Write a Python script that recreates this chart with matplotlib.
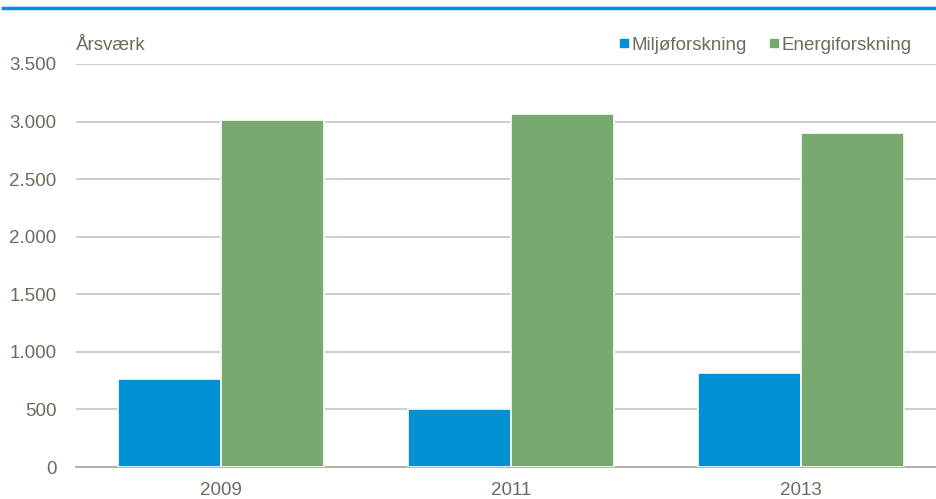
import matplotlib.pyplot as plt
import numpy as np
from matplotlib.lines import Line2D

# data
aar = ['2009', '2011', '2013']
miljo = [765, 505, 815]
energi = [3015, 3065, 2900]
serier = ['Miljøforskning', 'Energiforskning']
yticks = [0, 500, 1000, 1500, 2000, 2500, 3000, 3500]
ylabels = ['0', '500', '1.000', '1.500', '2.000', '2.500', '3.000', '3.500']

blaa = '#0090d4'
groen = '#78a96f'
tekst = '#6b6b5e'
gitter = '#c6c6bc'

plt.rcParams['font.family'] = ['Liberation Sans Narrow', 'Liberation Sans', 'DejaVu Sans']

fig = plt.figure(figsize=(9.36, 4.99), dpi=100)
W, H = 936, 499
# akse fra x=76 til 946 px, y=0 ved 467 px, 3500 ved 64 px
ax = fig.add_axes([76 / W, (H - 467) / H, 870 / W, 403 / H])

x = np.arange(len(aar))
b = 0.355
ax.bar(x - b / 2, miljo, width=b, color=blaa, edgecolor='white', linewidth=1.2, zorder=3)
ax.bar(x + b / 2, energi, width=b, color=groen, edgecolor='white', linewidth=1.2, zorder=3)

ax.set_xlim(-0.5, 2.5)
ax.set_ylim(0, 3500)
ax.set_yticks(yticks)
ax.set_yticklabels(ylabels)
ax.set_xticks(x)
ax.set_xticklabels(aar)
ax.tick_params(axis='y', length=0, pad=14, labelsize=13.5, labelcolor=tekst)
ax.tick_params(axis='x', length=0, pad=11, labelsize=13.5, labelcolor=tekst)
ax.grid(axis='y', color=gitter, linewidth=1.2, zorder=0)
for s in ['top', 'right', 'left']:
    ax.spines[s].set_visible(False)
ax.spines['bottom'].set_color('#a8a89c')
ax.spines['bottom'].set_linewidth(1.2)

fig.text(76 / W, 1 - 45 / H, 'Årsværk', fontsize=13.5, color=tekst, va='center', ha='left')

handles = [Line2D([], [], marker='s', linestyle='none', markersize=6, color=c) for c in (blaa, groen)]
fig.legend(handles, serier, loc='center right', bbox_to_anchor=(921 / W, 1 - 45 / H),
           ncol=2, frameon=False, fontsize=13.5, labelcolor=tekst,
           handletextpad=0.05, columnspacing=1.1, handlelength=0.7, borderpad=0)

# blå streg øverst
fig.add_artist(Line2D([3 / W, 1], [1 - 7.5 / H, 1 - 7.5 / H], color=blaa, linewidth=2.5))

fig.savefig('out.png', dpi=100)
